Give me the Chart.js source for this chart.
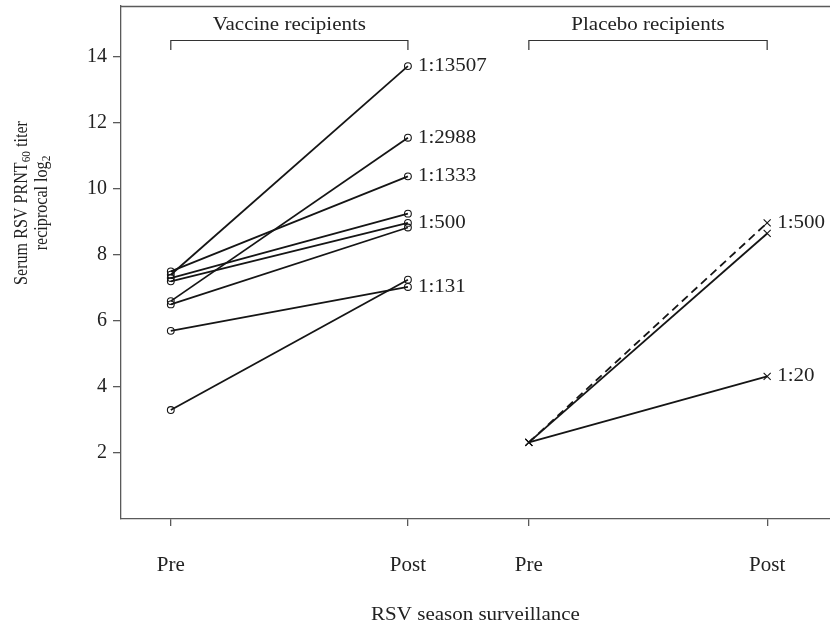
<!DOCTYPE html>
<html>
<head>
<meta charset="utf-8">
<script src="https://cdn.jsdelivr.net/npm/chart.js@4/dist/chart.umd.min.js"></script>
<style>
  html,body{margin:0;padding:0;background:#fff;}
  #wrap{width:830px;height:632px;}
</style>
</head>
<body>
<div id="wrap"><canvas id="c" width="830" height="632"></canvas></div>
<script>
// ---- data ----
const xCategories = ['Pre', 'Post', 'Pre', 'Post'];
const groupNames = ['Vaccine recipients', 'Placebo recipients'];
const yTickValues = [2, 4, 6, 8, 10, 12, 14];

const vaccinePre  = [7.40, 6.60, 7.50, 7.30, 7.20, 6.50, 3.30, 5.70];
const vaccinePost = [13.72, 11.55, 10.38, 9.25, 8.97, 8.83, 7.25, 7.03];

const placeboPre  = [2.32, 2.32, 2.32];
const placeboPost = [8.97, 8.65, 4.32];
const placeboDashed = [true, false, false];

const vaccineLabelText  = ['1:13507', '1:2988', '1:1333', '1:500', '1:131'];
const vaccineLabelValue = [13.72, 11.55, 10.38, 8.97, 7.03];
const placeboLabelText  = ['1:500', '1:20'];
const placeboLabelValue = [8.97, 4.32];

// ---- layout (positions of the four columns on the x scale) ----
const xPos = [1, 2, 2.51, 3.515];
const FONT = '"Liberation Serif", "Times New Roman", serif';
const AXIS_COLOR = '#5a5a5a';
const TEXT_COLOR = '#222';
const SQ = 0.87; // vertical squash of annotation text

const datasets = [];
vaccinePre.forEach((p, i) => {
  datasets.push({
    data: [{x: xPos[0], y: p}, {x: xPos[1], y: vaccinePost[i]}],
    borderColor: '#151515', borderWidth: 1.8,
    pointStyle: 'circle', pointRadius: 3.4, pointBorderWidth: 1.1,
    pointBorderColor: '#151515', pointBackgroundColor: 'rgba(0,0,0,0)',
    showLine: true, fill: false
  });
});
placeboPre.forEach((p, i) => {
  datasets.push({
    data: [{x: xPos[2], y: p}, {x: xPos[3], y: placeboPost[i]}],
    borderColor: '#151515', borderWidth: 1.8,
    borderDash: placeboDashed[i] ? [8, 5] : [],
    pointStyle: 'crossRot', pointRadius: 5, pointBorderWidth: 1.1,
    pointBorderColor: '#151515', pointBackgroundColor: 'rgba(0,0,0,0)',
    showLine: true, fill: false
  });
});

function squashText(ctx, text, x, y) {
  ctx.save();
  ctx.translate(x, y);
  ctx.scale(1, SQ);
  ctx.fillText(text, 0, 0);
  ctx.restore();
}

const annotPlugin = {
  id: 'annot',
  afterDraw(chart) {
    const ctx = chart.ctx;
    const xs = chart.scales.x, ys = chart.scales.y;
    const ca = chart.chartArea;
    ctx.save();
    // top border of box
    ctx.strokeStyle = AXIS_COLOR; ctx.lineWidth = 1.3;
    ctx.beginPath(); ctx.moveTo(ca.left, ca.top + 0.5); ctx.lineTo(ca.right, ca.top + 0.5); ctx.stroke();

    // brackets + group names
    ctx.strokeStyle = '#333'; ctx.lineWidth = 1.2;
    ctx.fillStyle = TEXT_COLOR;
    ctx.font = '21px ' + FONT;
    ctx.textAlign = 'center'; ctx.textBaseline = 'middle';
    [[0, 1], [2, 3]].forEach((pair, g) => {
      const x1 = xs.getPixelForValue(xPos[pair[0]]);
      const x2 = xs.getPixelForValue(xPos[pair[1]]);
      const yb = 40.5, ye = 50;
      ctx.beginPath();
      ctx.moveTo(x1, ye); ctx.lineTo(x1, yb); ctx.lineTo(x2, yb); ctx.lineTo(x2, ye);
      ctx.stroke();
      squashText(ctx, groupNames[g], (x1 + x2) / 2, 25);
    });

    // titer labels
    ctx.textAlign = 'left';
    const xv = xs.getPixelForValue(xPos[1]) + 10;
    vaccineLabelText.forEach((t, i) => squashText(ctx, t, xv, ys.getPixelForValue(vaccineLabelValue[i])));
    const xp = xs.getPixelForValue(xPos[3]) + 10;
    placeboLabelText.forEach((t, i) => squashText(ctx, t, xp, ys.getPixelForValue(placeboLabelValue[i])));

    // x axis title
    ctx.textAlign = 'center';
    squashText(ctx, 'RSV season surveillance', (ca.left + ca.right) / 2, 615);

    // y axis title (rotated, with subscripts)
    const drawRich = (parts, cx, cy) => {
      const big = '18.5px ' + FONT, small = '13px ' + FONT;
      let w = 0;
      parts.forEach(p => { ctx.font = p.sub ? small : big; w += ctx.measureText(p.t).width; });
      let x = -w / 2;
      ctx.save();
      ctx.translate(cx, cy);
      ctx.scale(1, SQ);
      ctx.rotate(-Math.PI / 2);
      ctx.textAlign = 'left'; ctx.textBaseline = 'middle';
      parts.forEach(p => {
        ctx.font = p.sub ? small : big;
        ctx.fillText(p.t, x, p.sub ? 5 : 0);
        x += ctx.measureText(p.t).width;
      });
      ctx.restore();
    };
    drawRich([{t: 'Serum RSV PRNT'}, {t: '60', sub: true}, {t: ' titer'}], 22, 203);
    drawRich([{t: 'reciprocal log'}, {t: '2', sub: true}], 42, 203);
    ctx.restore();
  }
};

const zeroPad = s => { s.paddingTop = 0; s.paddingBottom = 0; s.paddingLeft = 0; s.paddingRight = 0; };

new Chart(document.getElementById('c'), {
  type: 'scatter',
  data: { datasets },
  options: {
    responsive: false, animation: false,
    layout: { autoPadding: false, padding: { top: 6, right: 0, left: 0, bottom: 0 } },
    plugins: { legend: { display: false }, tooltip: { enabled: false } },
    scales: {
      x: {
        type: 'linear', min: 0.79, max: 3.78,
        afterBuildTicks: s => { s.ticks = xPos.map(v => ({ value: v })); },
        ticks: { callback: (v, i) => xCategories[i], color: TEXT_COLOR, font: { family: FONT, size: 21 }, padding: 27, maxRotation: 0, autoSkip: false },
        grid: { display: true, drawOnChartArea: false, drawTicks: true, tickLength: 7, color: AXIS_COLOR, lineWidth: 1.3 },
        border: { display: true, color: AXIS_COLOR, width: 1.3 },
        afterFit: s => { s.height = 113; zeroPad(s); }
      },
      y: {
        min: 0, max: 15.54,
        afterBuildTicks: s => { s.ticks = yTickValues.map(v => ({ value: v })); },
        ticks: { color: TEXT_COLOR, font: { family: FONT, size: 20 }, padding: 6 },
        grid: { display: true, drawOnChartArea: false, drawTicks: true, tickLength: 8, color: AXIS_COLOR, lineWidth: 1.3 },
        border: { display: true, color: AXIS_COLOR, width: 1.3 },
        afterFit: s => { s.width = 121; zeroPad(s); }
      }
    }
  },
  plugins: [annotPlugin]
});
</script>
</body>
</html>
